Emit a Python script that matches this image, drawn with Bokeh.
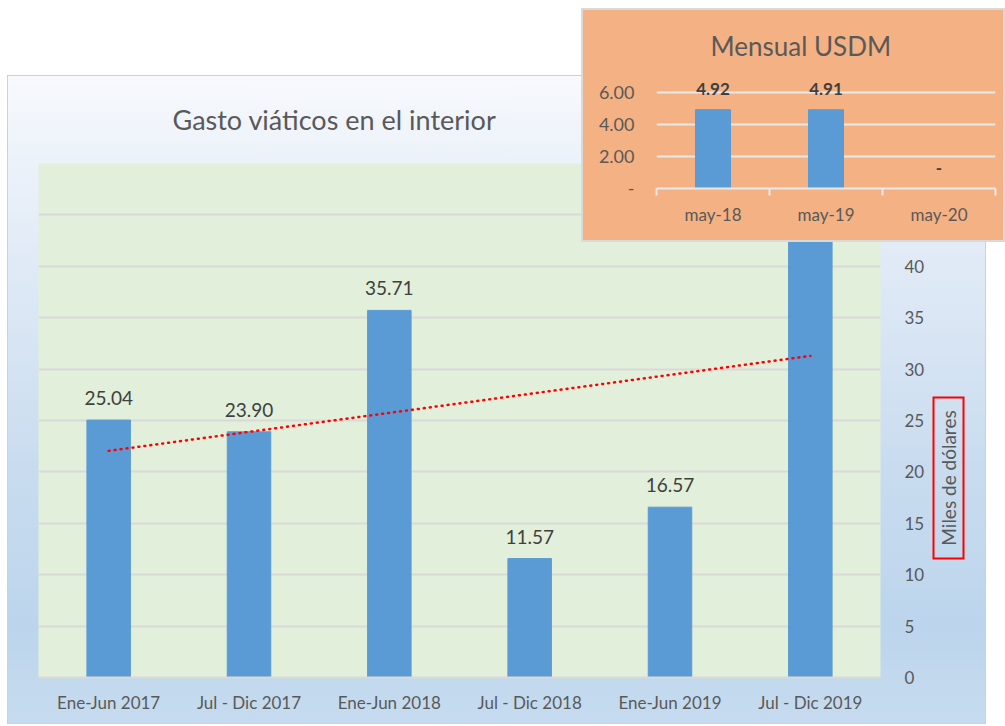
from bokeh.plotting import figure
from bokeh.models import FixedTicker, Title, Range1d, Div
from bokeh.embed import file_html
from bokeh.resources import INLINE
from bokeh.core.properties import value
import numpy as np

# ---- main chart data ----
periods = ["Ene-Jun 2017", "Jul - Dic 2017", "Ene-Jun 2018", "Jul - Dic 2018", "Ene-Jun 2019", "Jul - Dic 2019"]
gasto = [25.04, 23.90, 35.71, 11.57, 16.57, 47.20]
gasto_labels = ["25.04", "23.90", "35.71", "11.57", "16.57", "47.20"]
main_ticks = [0, 5, 10, 15, 20, 25, 30, 35, 40, 45, 50]
y_title = "Miles de dólares"

# ---- inset data ----
months = ["may-18", "may-19", "may-20"]
mensual = [4.92, 4.91, 0.0]
mensual_labels = ["4.92", "4.91", "-"]
inset_ticks = [0, 2, 4, 6]
inset_tick_labels = ["-", "2.00", "4.00", "6.00"]

FONT = "Lato"
GREY_TXT = "#595959"
DARK_TXT = "#404040"
BAR = "#5B9BD5"
GRID = "#D9D9D9"

# ---------------- main figure ----------------
p = figure(x_range=periods, y_range=Range1d(0, 50), width=977, height=647,
           output_backend="svg", toolbar_location=None, y_axis_location="right",
           min_border_left=30, min_border_right=105, min_border_top=87, min_border_bottom=46,
           styles={"position": "absolute", "left": "8px", "top": "76px",
                   "background": "linear-gradient(to bottom, #f7f9fd 0%, #e3ecf7 25%, #c9dcef 60%, #bcd5ec 85%, #c6dbef 100%)",
                   "outline": "1px solid #d0d0d0"})
p.border_fill_color = None
p.background_fill_color = "#E2EFDA"
p.outline_line_color = None

t = Title(text="Gasto viáticos en el interior", align="left", offset=134,
          vertical_align="top",
          text_font=FONT, text_font_size="27px", text_font_style="normal",
          text_color=GREY_TXT, standoff=52)
p.add_layout(t, "above")

p.vbar(x=periods, top=gasto, width=0.31, color=BAR)
p.text(x=periods, y=gasto, text=gasto_labels, text_font=value(FONT), text_font_size="19px",
       text_color=DARK_TXT, text_align="center", text_baseline="middle", y_offset=-22)

xi = np.arange(len(gasto))
coef = np.polyfit(xi, gasto, 1)
trend = list(np.polyval(coef, xi))
p.line(x=periods, y=trend, line_color="#FF0000", line_width=2.5, line_dash="1 5", line_cap="round")

p.yaxis.ticker = FixedTicker(ticks=main_ticks)
p.yaxis.axis_line_color = None
p.yaxis.major_tick_line_color = None
p.yaxis.minor_tick_line_color = None
p.yaxis.major_label_standoff = 18
p.yaxis.major_label_text_font = FONT
p.yaxis.major_label_text_font_size = "17px"
p.yaxis.major_label_text_color = GREY_TXT

p.ygrid.ticker = FixedTicker(ticks=main_ticks)
p.ygrid.grid_line_color = GRID
p.ygrid.grid_line_width = 2
p.xgrid.grid_line_color = None

p.xaxis.axis_line_color = GRID
p.xaxis.axis_line_width = 2
p.xaxis.major_tick_line_color = None
p.xaxis.minor_tick_line_color = None
p.xaxis.major_label_standoff = 8
p.xaxis.major_label_text_font = FONT
p.xaxis.major_label_text_font_size = "17px"
p.xaxis.major_label_text_color = GREY_TXT

# axis title in a red box (rotated, reads bottom-to-top)
d = Div(text=y_title, width=163, height=32,
        styles={"position": "absolute", "left": "862px", "top": "457px",
                "transform": "rotate(-90deg)", "transform-origin": "50% 50%",
                "border": "2px solid #FF0000", "box-sizing": "border-box",
                "font-family": FONT, "font-size": "19px", "color": GREY_TXT,
                "text-align": "center", "line-height": "28px", "z-index": "3",
                "white-space": "nowrap"})

# ---------------- inset figure ----------------
q = figure(x_range=Range1d(0, 3), y_range=Range1d(0, 6.8), width=420, height=230,
           output_backend="svg", toolbar_location=None,
           min_border_left=73, min_border_right=8, min_border_top=68, min_border_bottom=52,
           styles={"position": "absolute", "left": "583px", "top": "10px", "z-index": "5",
                   "background": "#F4B183", "outline": "2px solid #d9d9d9"})
q.border_fill_color = None
q.background_fill_color = None
q.outline_line_color = None

qt = Title(text="Mensual USDM", align="left", offset=54, text_font=FONT,
           text_font_size="26px", text_font_style="normal", text_color=GREY_TXT, standoff=35)
q.add_layout(qt, "above")

xm = [i + 0.5 for i in range(len(months))]
q.vbar(x=xm, top=mensual, width=0.31, color=BAR)
q.text(x=xm, y=mensual, text=mensual_labels, text_font=value(FONT), text_font_size="17px",
       text_font_style="bold", text_color=DARK_TXT, text_align="center", text_baseline="middle",
       y_offset=-21)

q.yaxis.ticker = FixedTicker(ticks=inset_ticks)
q.yaxis.major_label_overrides = {k: v for k, v in zip(inset_ticks, inset_tick_labels)}
q.yaxis.axis_line_color = None
q.yaxis.major_tick_line_color = None
q.yaxis.minor_tick_line_color = None
q.yaxis.major_label_standoff = 16
q.yaxis.major_label_text_font = FONT
q.yaxis.major_label_text_font_size = "18px"
q.yaxis.major_label_text_color = GREY_TXT

q.ygrid.ticker = FixedTicker(ticks=[v for v in inset_ticks if v > 0])
q.ygrid.grid_line_color = "#E8E8E8"
q.ygrid.grid_line_width = 2
q.xgrid.grid_line_color = None

q.xaxis.ticker = FixedTicker(ticks=xm, minor_ticks=list(range(len(months) + 1)))
q.xaxis.major_label_overrides = {k: v for k, v in zip(xm, months)}
q.xaxis.axis_line_color = "#E8E8E8"
q.xaxis.axis_line_width = 2
q.xaxis.major_tick_line_color = None
q.xaxis.minor_tick_line_color = "#E8E8E8"
q.xaxis.minor_tick_line_width = 2
q.xaxis.minor_tick_out = 7
q.xaxis.minor_tick_in = 0
q.xaxis.major_label_standoff = 8
q.xaxis.major_label_text_font = FONT
q.xaxis.major_label_text_font_size = "17px"
q.xaxis.major_label_text_color = GREY_TXT

open("out.html", "w").write(file_html([p, q, d], INLINE))
